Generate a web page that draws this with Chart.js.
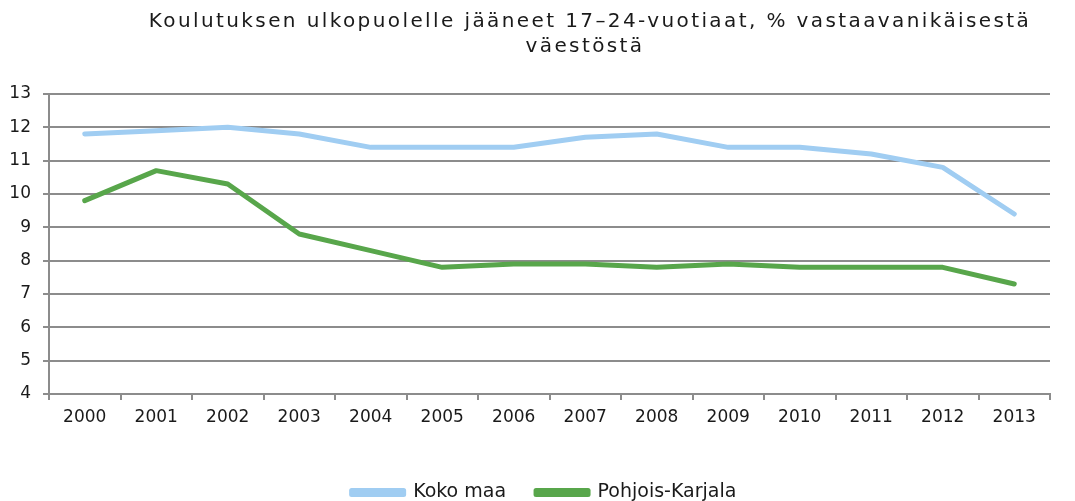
<!DOCTYPE html>
<html>
<head>
<meta charset="utf-8">
<script src="https://cdn.jsdelivr.net/npm/chart.js@4.4.1/dist/chart.umd.min.js"></script>
<style>
  html, body { margin: 0; padding: 0; background: #fff; }
  canvas { display: block; }
</style>
</head>
<body>
<canvas id="chart" width="1075" height="501"></canvas>
<script>
/* Chart data */
const years = ["2000", "2001", "2002", "2003", "2004", "2005", "2006",
               "2007", "2008", "2009", "2010", "2011", "2012", "2013"];
const kokoMaa = [11.8, 11.9, 12.0, 11.8, 11.4, 11.4, 11.4, 11.7, 11.8, 11.4, 11.4, 11.2, 10.8, 9.4];
const pohjoisKarjala = [9.8, 10.7, 10.3, 8.8, 8.3, 7.8, 7.9, 7.9, 7.8, 7.9, 7.8, 7.8, 7.8, 7.3];
const titleLines = ["Koulutuksen ulkopuolelle jääneet 17–24-vuotiaat, % vastaavanikäisestä", "väestöstä"];

const FONT = "'DejaVu Sans', Verdana, sans-serif";
const GRID = "#8c8c8c";
const TEXT = "#1a1a1a";

/* Title is drawn by hand so it can be spaced out and placed like the original */
const titlePlugin = {
    id: "spacedTitle",
    afterLayout(chart) {
        /* the original legend sits a bit right of the canvas centre */
        if (chart.legend) {
            chart.legend.left += 19;
            chart.legend.right += 19;
        }
    },
    afterDraw(chart) {
        const ctx = chart.ctx;
        ctx.save();
        ctx.font = "20px " + FONT;
        ctx.fillStyle = TEXT;
        ctx.textAlign = "center";
        ctx.textBaseline = "middle";
        ctx.letterSpacing = "2.4px";
        ctx.fillText(titleLines[0], 590, 22);
        ctx.fillText(titleLines[1], 585, 47);
        ctx.restore();
    }
};

new Chart(document.getElementById("chart"), {
    type: "line",
    data: {
        labels: years,
        datasets: [
            {
                label: "Koko maa",
                data: kokoMaa,
                borderColor: "#a0cdf2",
                backgroundColor: "#a0cdf2",
                borderWidth: 5,
                pointRadius: 0,
                tension: 0,
                borderCapStyle: "round",
                borderJoinStyle: "round"
            },
            {
                label: "Pohjois-Karjala",
                data: pohjoisKarjala,
                borderColor: "#58a64b",
                backgroundColor: "#58a64b",
                borderWidth: 5,
                pointRadius: 0,
                tension: 0,
                borderCapStyle: "round",
                borderJoinStyle: "round"
            }
        ]
    },
    options: {
        responsive: false,
        animation: false,
        layout: { padding: { top: 94, right: 25, left: 0, bottom: -11 } },
        plugins: {
            title: { display: false },
            tooltip: { enabled: false },
            legend: {
                position: "bottom",
                labels: {
                    boxWidth: 52,
                    boxHeight: 4,
                    padding: 30,
                    color: TEXT,
                    font: { family: FONT, size: 19 }
                }
            }
        },
        scales: {
            x: {
                offset: true,
                grid: {
                    offset: true,
                    drawOnChartArea: false,
                    drawTicks: true,
                    tickLength: 6,
                    color: GRID,
                    lineWidth: 2
                },
                border: { color: GRID, width: 2 },
                ticks: {
                    color: TEXT,
                    padding: 7,
                    maxRotation: 0,
                    font: { family: FONT, size: 17 }
                },
                afterFit(scale) { scale.height = 59; }
            },
            y: {
                min: 4,
                max: 13,
                ticks: {
                    stepSize: 1,
                    color: TEXT,
                    padding: 12,
                    font: { family: FONT, size: 17 }
                },
                grid: {
                    color: GRID,
                    lineWidth: 2,
                    tickLength: 6
                },
                border: { color: GRID, width: 2 },
                afterFit(scale) { scale.width = 49; }
            }
        }
    },
    plugins: [titlePlugin]
});
</script>
</body>
</html>
